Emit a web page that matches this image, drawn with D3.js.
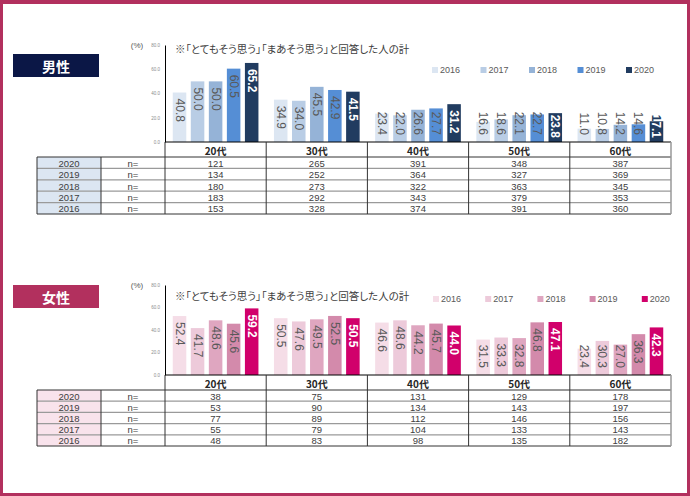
<!DOCTYPE html>
<html><head><meta charset="utf-8">
<script src="https://cdn.jsdelivr.net/npm/d3@7/dist/d3.min.js"></script>
<style>body{margin:0;background:#fff}svg{display:block}.note{font-feature-settings:"palt" 1}</style>
</head><body>
<svg id="c" width="690" height="496"></svg>
<script>
const years = ["2016", "2017", "2018", "2019", "2020"];
const tableYears = ["2020", "2019", "2018", "2017", "2016"];
const ages = ["20代", "30代", "40代", "50代", "60代"];
const yTicks = [0, 20, 40, 60, 80];
const noteText = "※「とてもそう思う」「まあそう思う」と回答した人の計";

// 男性 (%), one array per year, by age group
const male2016 = [40.8, 34.9, 23.4, 16.6, 11.0];
const male2017 = [50.0, 34.0, 22.0, 18.6, 10.8];
const male2018 = [50.0, 45.5, 26.6, 22.1, 14.2];
const male2019 = [60.5, 42.9, 27.7, 22.7, 14.6];
const male2020 = [65.2, 41.5, 31.2, 23.8, 17.1];
// 男性 n=
const maleN2020 = [121, 265, 391, 348, 387];
const maleN2019 = [134, 252, 364, 327, 369];
const maleN2018 = [180, 273, 322, 363, 345];
const maleN2017 = [183, 292, 343, 379, 353];
const maleN2016 = [153, 328, 374, 391, 360];

// 女性 (%)
const female2016 = [52.4, 50.5, 46.6, 31.5, 23.4];
const female2017 = [41.7, 47.6, 48.6, 33.3, 30.3];
const female2018 = [48.6, 49.5, 44.2, 32.8, 27.0];
const female2019 = [45.6, 52.5, 45.7, 46.8, 36.3];
const female2020 = [59.2, 50.5, 44.0, 47.1, 42.3];
// 女性 n=
const femaleN2020 = [38, 75, 131, 129, 178];
const femaleN2019 = [53, 90, 134, 143, 197];
const femaleN2018 = [77, 89, 112, 146, 156];
const femaleN2017 = [55, 79, 104, 133, 143];
const femaleN2016 = [48, 83, 98, 135, 182];

const svg = d3.select("#c");
const defs = svg.append("defs");
const FONT = "'Liberation Sans', Arial, sans-serif";
const JFONT = "'Noto Sans CJK JP', sans-serif";

// frame
const frameC = "#B2305E";
svg.append("rect").attr("x", 0).attr("y", 0).attr("width", 690).attr("height", 4).attr("fill", frameC);
svg.append("rect").attr("x", 0).attr("y", 493).attr("width", 690).attr("height", 3).attr("fill", frameC);
svg.append("rect").attr("x", 0).attr("y", 0).attr("width", 3).attr("height", 496).attr("fill", frameC);
svg.append("rect").attr("x", 687).attr("y", 0).attr("width", 3).attr("height", 496).attr("fill", frameC);

let clipId = 0;
function panel(o) {
  const g = svg.append("g");
  const x0 = d3.scaleBand().domain(ages).range([165, 671]);
  const x1 = d3.scaleBand().domain(years).range([0, x0.bandwidth()]).paddingInner(0.25).paddingOuter(0.43);
  const y = d3.scaleLinear().domain([0, 80]).range([o.base, o.top]);
  const color = d3.scaleOrdinal().domain(years).range(o.colors);

  // label box
  g.append("rect").attr("x", 13).attr("y", o.boxY).attr("width", 86).attr("height", 23).attr("fill", o.boxColor);
  g.append("text").attr("x", 56).attr("y", o.boxY + 12).attr("text-anchor", "middle")
    .attr("dominant-baseline", "central").attr("fill", "#fff").attr("font-family", JFONT)
    .attr("font-weight", "bold").attr("font-size", 14).text(o.label);

  // unit + note
  g.append("text").attr("x", 137).attr("y", o.top + 3).attr("text-anchor", "middle").attr("font-family", FONT)
    .attr("font-size", 8).attr("fill", "#595959").text("(%)");
  g.append("text").attr("class", "note").attr("x", 175).attr("y", o.noteY).attr("font-family", JFONT)
    .attr("font-size", 10.5).attr("fill", "#404040").attr("dominant-baseline", "central").text(noteText);

  // y axis
  const ax = g.append("g").attr("transform", "translate(165,0)")
    .call(d3.axisLeft(y).tickValues(yTicks).tickFormat(d3.format(".1f")).tickSize(0).tickPadding(5));
  ax.select(".domain").attr("stroke", "#000").attr("stroke-width", 1);
  ax.selectAll("text").attr("font-size", 4.5).attr("fill", "#8c8c8c").attr("font-family", FONT);

  // bars
  years.forEach((yr, i) => {
    const vals = o.series[i];
    const grp = g.append("g");
    const last = yr === "2020";
    vals.forEach((d, j) => {
      const bx = x0(ages[j]) + x1(yr), bw = x1.bandwidth(), by = y(d), bh = o.base - y(d);
      grp.append("rect").attr("x", bx).attr("y", by).attr("width", bw).attr("height", bh).attr("fill", color(yr));
      const cx = bx + bw / 2;
      const mk = (fill) => grp.append("text")
        .attr("font-family", FONT).attr("font-size", 12)
        .attr("font-weight", last ? "bold" : "normal")
        .attr("fill", fill).attr("dominant-baseline", "central").text(d.toFixed(1));
      const t1 = mk(last ? o.colors[4] : "#595959");
      const len = t1.node().getComputedTextLength();
      const ys = Math.min(by + 6, o.base - (last ? 4 : 7) - len);
      t1.attr("transform", `translate(${cx},${ys}) rotate(90)`);
      if (last) {
        const id = "clip" + (clipId++);
        defs.append("clipPath").attr("id", id).append("rect").attr("x", bx).attr("y", by).attr("width", bw).attr("height", bh);
        const t2 = mk("#fff").attr("transform", `translate(${cx},${ys}) rotate(90)`);
        grp.append("g").attr("clip-path", `url(#${id})`).node().appendChild(t2.node());
      }
    });
  });

  // legend
  years.forEach((yr, i) => {
    const lx = o.legX + i * o.legStep;
    g.append("rect").attr("x", lx).attr("y", o.legY - 3).attr("width", 6).attr("height", 6).attr("fill", color(yr));
    g.append("text").attr("x", lx + 8).attr("y", o.legY).attr("dominant-baseline", "central")
      .attr("font-family", FONT).attr("font-size", 9).attr("fill", "#595959").text(yr);
  });

  // table
  const hh = 15, rh = o.rowH;
  const rowTop = o.base + hh;
  const bottom = rowTop + rh * tableYears.length;
  const t = g.append("g");
  tableYears.forEach((yr, r) => {
    t.append("rect").attr("x", 37).attr("y", rowTop + r * rh).attr("width", 64).attr("height", rh).attr("fill", o.cellBg);
  });
  ages.forEach(a => {
    t.append("text").attr("x", x0(a) + x0.bandwidth() / 2).attr("y", o.base + hh / 2 + 0.5)
      .attr("text-anchor", "middle").attr("dominant-baseline", "central")
      .attr("font-family", JFONT).attr("font-weight", "bold").attr("font-size", 10).attr("fill", "#262626").text(a);
  });
  tableYears.forEach((yr, r) => {
    const cy = rowTop + r * rh + rh / 2 + 0.5;
    t.append("text").attr("x", 69).attr("y", cy).attr("text-anchor", "middle").attr("dominant-baseline", "central")
      .attr("font-family", FONT).attr("font-size", 9.5).attr("fill", "#404040").text(yr);
    t.append("text").attr("x", 133).attr("y", cy).attr("text-anchor", "middle").attr("dominant-baseline", "central")
      .attr("font-family", FONT).attr("font-size", 9.5).attr("fill", "#404040").text("n=");
    o.nRows[r].forEach((n, j) => {
      t.append("text").attr("x", x0(ages[j]) + x0.bandwidth() / 2).attr("y", cy).attr("text-anchor", "middle")
        .attr("dominant-baseline", "central").attr("font-family", FONT).attr("font-size", 9.5).attr("fill", "#404040").text(n);
    });
  });
  for (let r = 1; r < tableYears.length; r++) {
    t.append("line").attr("x1", 37).attr("x2", 671).attr("y1", rowTop + r * rh).attr("y2", rowTop + r * rh)
      .attr("stroke", "#9a9a9a").attr("stroke-width", 1.2);
  }
  t.append("line").attr("x1", 37).attr("x2", 671).attr("y1", rowTop).attr("y2", rowTop).attr("stroke", "#333").attr("stroke-width", 1);
  t.append("line").attr("x1", 37).attr("x2", 671).attr("y1", bottom).attr("y2", bottom).attr("stroke", "#333").attr("stroke-width", 1);
  t.append("line").attr("x1", 165).attr("x2", 671).attr("y1", o.base).attr("y2", o.base).attr("stroke", "#000").attr("stroke-width", 1);
  t.append("line").attr("x1", 37).attr("x2", 37).attr("y1", rowTop).attr("y2", bottom).attr("stroke", "#333");
  t.append("line").attr("x1", 101).attr("x2", 101).attr("y1", rowTop).attr("y2", bottom).attr("stroke", "#333");
  ages.forEach(a => {
    t.append("line").attr("x1", x0(a)).attr("x2", x0(a)).attr("y1", o.base).attr("y2", bottom).attr("stroke", "#333");
  });
  t.append("line").attr("x1", 671).attr("x2", 671).attr("y1", o.base).attr("y2", bottom).attr("stroke", "#999").attr("stroke-width", 1.5);
}

panel({
  label: "男性", boxY: 54, boxColor: "#0B1746",
  top: 45, base: 142, noteY: 48, rowH: 11.4,
  colors: ["#DCE6F2", "#B9CDE5", "#95B3D7", "#558ED5", "#213C60"],
  series: [male2016, male2017, male2018, male2019, male2020],
  nRows: [maleN2020, maleN2019, maleN2018, maleN2017, maleN2016],
  legX: 432, legY: 70, legStep: 48.5, cellBg: "#DCE6F2"
});

panel({
  label: "女性", boxY: 285, boxColor: "#B2305E",
  top: 285, base: 375, noteY: 295, rowH: 11.2,
  colors: ["#F5DDE7", "#EDCADA", "#DFA6C0", "#D38AAB", "#D1006B"],
  series: [female2016, female2017, female2018, female2019, female2020],
  nRows: [femaleN2020, femaleN2019, femaleN2018, femaleN2017, femaleN2016],
  legX: 433, legY: 299, legStep: 52.2, cellBg: "#F9E3EC"
});
</script>
</body></html>
